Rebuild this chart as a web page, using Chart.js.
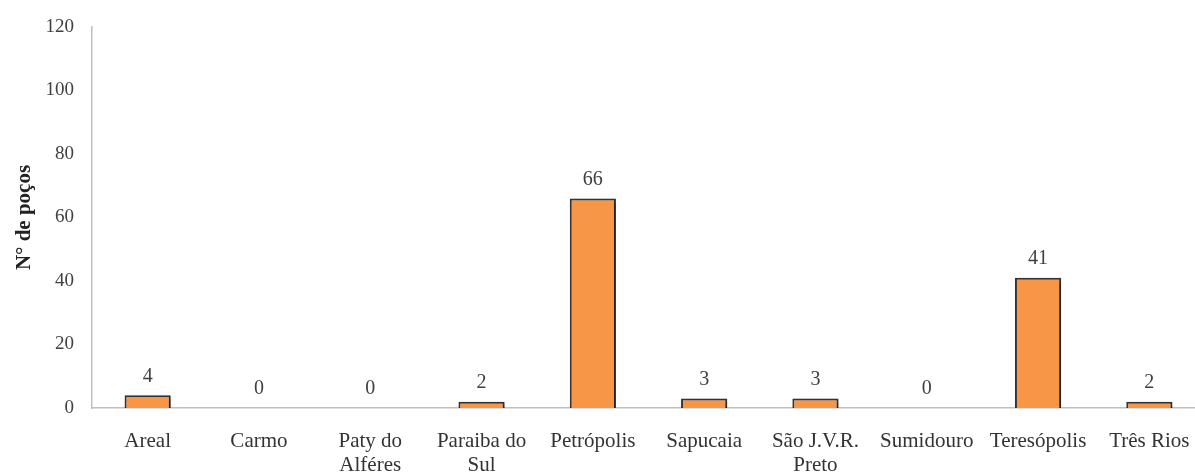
<!DOCTYPE html>
<html>
<head>
<meta charset="utf-8">
<script src="https://cdn.jsdelivr.net/npm/chart.js@4"></script>
<style>
  html, body { margin: 0; padding: 0; background: #ffffff; }
  #wrap { width: 1195px; height: 475px; }
</style>
</head>
<body>
<div id="wrap"><canvas id="c" width="1195" height="475"></canvas></div>
<script>
// Municipalities (multi-line labels as arrays)
const municipios = [
  'Areal',
  'Carmo',
  ['Paty do', 'Alféres'],
  ['Paraiba do', 'Sul'],
  'Petrópolis',
  'Sapucaia',
  ['São J.V.R.', 'Preto'],
  'Sumidouro',
  'Teresópolis',
  'Três Rios'
];
// Number of wells per municipality
const numPocos = [4, 0, 0, 2, 66, 3, 3, 0, 41, 2];
// Y axis range
const yMin = 0;
const yMax = 120;
const yStep = 20;

const serif = '"Liberation Serif", "Times New Roman", Times, serif';

// The plot runs slightly past the right edge of the canvas (last category is cut off)
const overflowRight = 10;
const widenPlot = {
  id: 'widenPlot',
  afterLayout(chart) {
    const x = chart.scales.x;
    x.right += overflowRight;
    x.width += overflowRight;
    x.configure();
    chart.chartArea.right += overflowRight;
    chart.chartArea.width += overflowRight;
  }
};

// Soft drop shadow behind the bars
const barShadow = {
  id: 'barShadow',
  beforeDatasetsDraw(chart) {
    const ctx = chart.ctx;
    ctx.save();
    ctx.shadowColor = 'rgba(0,0,0,0.35)';
    ctx.shadowBlur = 4;
    ctx.shadowOffsetX = 3;
    ctx.shadowOffsetY = 2;
  },
  afterDatasetsDraw(chart) {
    chart.ctx.restore();
  }
};

// Value written above each bar
const valueLabels = {
  id: 'valueLabels',
  afterDatasetsDraw(chart) {
    const ctx = chart.ctx;
    const meta = chart.getDatasetMeta(0);
    const data = chart.data.datasets[0].data;
    ctx.save();
    ctx.font = '20px ' + serif;
    ctx.fillStyle = '#404040';
    ctx.textAlign = 'center';
    ctx.textBaseline = 'middle';
    meta.data.forEach((bar, i) => {
      ctx.fillText(String(data[i]), bar.x, bar.y - 19);
    });
    ctx.restore();
  }
};

new Chart(document.getElementById('c'), {
  type: 'bar',
  data: {
    labels: municipios,
    datasets: [{
      data: numPocos,
      backgroundColor: '#F79646',
      borderColor: '#333333',
      borderWidth: 2,
      borderSkipped: 'bottom',
      barPercentage: 0.415,
      categoryPercentage: 1.0
    }]
  },
  options: {
    responsive: false,
    animation: false,
    events: [],
    layout: { padding: { top: 27, right: 0, bottom: 0, left: 0 } },
    plugins: {
      legend: { display: false },
      tooltip: { enabled: false }
    },
    scales: {
      x: {
        grid: { display: false, drawTicks: false },
        border: { display: true, color: '#bfbfbf', width: 1.5 },
        ticks: {
          padding: 21,
          maxRotation: 0,
          autoSkip: false,
          color: '#333333',
          font: { family: serif, size: 21, lineHeight: 1.15 }
        },
        afterFit(scale) {
          scale.height = 67;
          scale.paddingLeft = 0;
          scale.paddingRight = 0;
        }
      },
      y: {
        min: yMin,
        max: yMax,
        grid: { display: false, drawTicks: false },
        border: { display: true, color: '#bfbfbf', width: 1.5 },
        ticks: {
          stepSize: yStep,
          padding: 18,
          color: '#404040',
          font: { family: serif, size: 19 }
        },
        title: {
          display: true,
          text: 'N° de poços',
          color: '#222222',
          padding: { top: 12, bottom: 0 },
          font: { family: serif, size: 21, weight: 'bold' }
        },
        afterFit(scale) {
          scale.width = 92;
          scale.paddingTop = 0;
          scale.paddingBottom = 0;
        }
      }
    }
  },
  plugins: [widenPlot, barShadow, valueLabels]
});
</script>
</body>
</html>
